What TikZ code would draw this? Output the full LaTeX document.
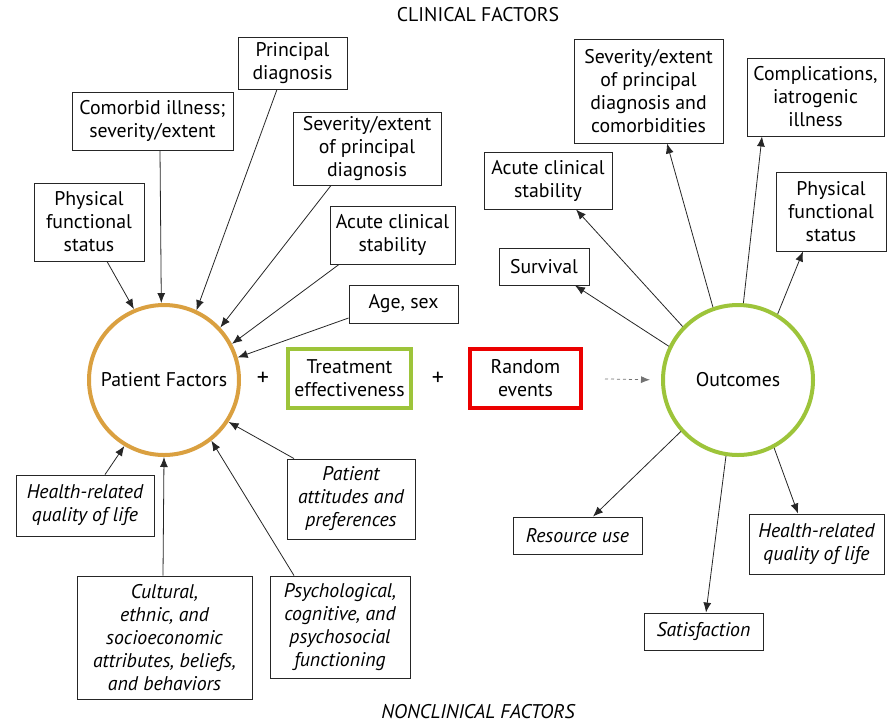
\documentclass[tikz,border=0pt]{standalone}
\usepackage{fontspec}
\setmainfont{PT Sans}
\usetikzlibrary{arrows.meta}
\definecolor{pforange}{RGB}{218,160,64}
\definecolor{okgreen}{RGB}{157,196,58}
\definecolor{evred}{RGB}{235,0,0}
\newcommand{\myfs}{\fontsize{19.8}{23}\selectfont}
\tikzset{
  fbox/.style={draw=black!85, line width=0.9pt, align=center, inner sep=0pt, font=\myfs},
  ibox/.style={fbox, font=\myfs\itshape},
  bigcirc/.style={circle, line width=4pt, minimum size=150pt, inner sep=0pt, font=\myfs},
  conn/.style={line width=0.8pt, black!85, -{Latex[length=10pt,width=8pt]}},
}
\begin{document}
\begin{tikzpicture}[x=1pt,y=-1pt]
\useasboundingbox (0,0) rectangle (891,726);
% titles
\node[font=\myfs] (tclin) at (478,15) {CLINICAL FACTORS};
\node[font=\myfs\itshape] (tnon) at (478,712) {NONCLINICAL FACTORS};
% circles
\node[bigcirc, draw=pforange] (pf) at (164,380) {Patient Factors};
\node[bigcirc, draw=okgreen] (out) at (738,380) {Outcomes};
% middle
\node[fbox, draw=okgreen, line width=4pt, minimum width=123pt, minimum height=59pt] (teff) at (349.5,378.5) {Treatment\\effectiveness};
\node[fbox, draw=evred, line width=4pt, minimum width=111pt, minimum height=59pt] (rand) at (525.5,378.5) {Random\\events};
\node[font=\fontsize{24}{24}\selectfont] (plus1) at (263,379) {+};
\node[font=\fontsize{24}{24}\selectfont] (plus2) at (438,379) {+};
\draw[line width=0.8pt, black!55, dashed, -{Latex[length=9pt,width=7pt]}, shorten <=22pt, shorten >=11pt] (rand.east) -- (out.west);
% left clinical
\node[fbox, minimum width=109pt, minimum height=52pt] (pdiag) at (292.5,63) {Principal\\diagnosis};
\node[fbox, minimum width=161pt, minimum height=58pt] (comorb) at (152.5,121) {Comorbid illness;\\severity/extent};
\node[fbox, minimum width=148pt, minimum height=73pt] (sevL) at (367,148.5) {Severity/extent\\of principal\\diagnosis};
\node[fbox, minimum width=110pt, minimum height=78pt] (physL) at (89,222) {Physical\\functional\\status};
\node[fbox, minimum width=125pt, minimum height=58pt] (acuteL) at (392.5,235) {Acute clinical\\stability};
\node[fbox, minimum width=109pt, minimum height=38pt] (age) at (403.5,304) {Age, sex};
% left nonclinical
\node[ibox, minimum width=138pt, minimum height=61pt] (hrqL) at (85,505.5) {Health-related\\quality of life};
\node[ibox, minimum width=175pt, minimum height=123pt] (cult) at (164.5,637.5) {Cultural,\\ethnic, and\\socioeconomic\\attributes, beliefs,\\and behaviors};
\node[ibox, minimum width=140pt, minimum height=102pt] (psych) at (340,627) {Psychological,\\cognitive, and\\psychosocial\\functioning};
\node[ibox, minimum width=128pt, minimum height=80pt] (att) at (351,499) {Patient\\attitudes and\\preferences};
% right clinical
\node[fbox, minimum width=149pt, minimum height=104pt] (sevR) at (648.5,91) {Severity/extent\\of principal\\diagnosis and\\comorbidities};
\node[fbox, minimum width=137pt, minimum height=78pt] (comp) at (815.5,97) {Complications,\\iatrogenic\\illness};
\node[fbox, minimum width=128pt, minimum height=57pt] (acuteR) at (548,180.5) {Acute clinical\\stability};
\node[fbox, minimum width=110pt, minimum height=79pt] (physR) at (831,211.5) {Physical\\functional\\status};
\node[fbox, minimum width=90pt, minimum height=37pt] (surv) at (544,266.5) {Survival};
% right nonclinical
\node[ibox, minimum width=129pt, minimum height=37pt] (res) at (577.5,535.5) {Resource use};
\node[ibox, minimum width=119pt, minimum height=37pt] (sat) at (703.5,631.5) {Satisfaction};
\node[ibox, minimum width=135pt, minimum height=60pt] (hrqR) at (816.5,544) {Health-related\\quality of life};
% arrows into Patient Factors
\draw[conn] ([xshift=18pt]physL.south) -- (pf.113);
\draw[conn] ([xshift=7.5pt]comorb.south) -- (pf.92);
\draw[conn] ([xshift=-15.5pt]pdiag.south) -- (pf.65);
\draw[conn] ([xshift=-36pt]sevL.south) -- (pf.43);
\draw[conn] ([xshift=-53.5pt]acuteL.south) -- (pf.28);
\draw[conn] ([yshift=-14pt]age.west) -- (pf.17);
\draw[conn] ([xshift=20pt]hrqL.north) -- (pf.-121.5);
\draw[conn] ([xshift=-1.5pt]cult.north) -- (pf.-90);
\draw[conn] ([xshift=-46pt]psych.north) -- (pf.-52);
\draw[conn] ([xshift=-57pt]att.north) -- (pf.-33);
% arrows out of Outcomes
\draw[conn] (out.109) -- ([xshift=18.5pt]sevR.south);
\draw[conn] (out.86) -- ([xshift=-53.5pt]comp.south);
\draw[conn] (out.136) -- ([xshift=28pt]acuteR.south);
\draw[conn] (out.59) -- ([xshift=-28pt]physR.south);
\draw[conn] (out.154) -- ([xshift=31pt]surv.south);
\draw[conn] (out.-138) -- ([xshift=15.5pt]res.north);
\draw[conn] (out.-99) -- ([xshift=2.5pt]sat.north);
\draw[conn] (out.-62) -- ([xshift=-18.5pt]hrqR.north);
\end{tikzpicture}
\end{document}
